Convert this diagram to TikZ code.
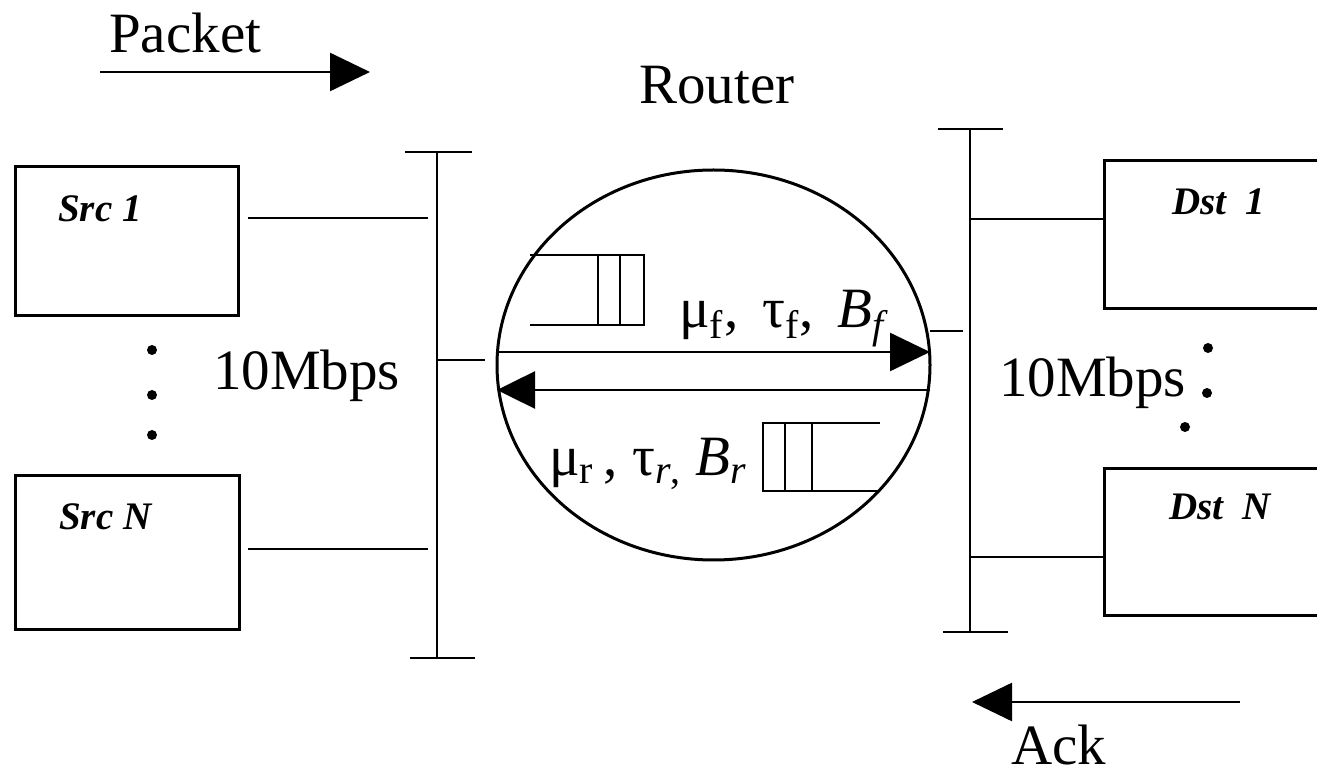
\documentclass[tikz,border=0pt]{standalone}
\usepackage{fontspec}
\setmainfont{Liberation Serif}
\usetikzlibrary{arrows.meta,shapes.geometric}
\begin{document}
\begin{tikzpicture}[x=0.5pt,y=-0.5pt,line width=1.3pt,
  big/.style={font=\fontsize{28.5pt}{30pt}\selectfont,inner sep=0pt,anchor=base west},
  hostlbl/.style={font=\fontsize{19.5pt}{22pt}\selectfont\bfseries\itshape,inner sep=0pt,anchor=base west},
  hostbox/.style={draw,anchor=north west,inner sep=0pt},
  tri/.style={-{Triangle[length=20pt,width=19pt]}},
  dot/.style={circle,fill,inner sep=0pt,minimum size=5pt}]
\useasboundingbox (0,0) rectangle (1317,774);
% host boxes
\node[hostbox,minimum width=111.5pt,minimum height=74.5pt] (src1) at (14,165) {};
\node[hostbox,minimum width=112pt,minimum height=77pt] (srcN) at (14,474) {};
\node[hostbox,minimum width=113.5pt,minimum height=74pt] (dst1) at (1103,159) {};
\node[hostbox,minimum width=113.5pt,minimum height=73.5pt] (dstN) at (1103,467) {};
\node[hostlbl] (t1) at (57,222) {Src 1};
\node[hostlbl] (t2) at (58,530) {Src N};
\node[hostlbl] (t3) at (1171,215) {Dst\ \ 1};
\node[hostlbl] (t4) at (1168,520) {Dst\ \ N};
% left bus
\coordinate (lbt) at (437,152);
\coordinate (lbb) at (437,658);
\draw (lbt) -- (lbb);
\coordinate (lbt1) at (405,152); \coordinate (lbt2) at (472,152);
\coordinate (lbb1) at (410,658); \coordinate (lbb2) at (475,658);
\draw (lbt1) -- (lbt2);
\draw (lbb1) -- (lbb2);
\coordinate (s1a) at (248,218); \coordinate (s1b) at (428,218);
\coordinate (sNa) at (248,549); \coordinate (sNb) at (428,549);
\draw (s1a) -- (s1b);
\draw (sNa) -- (sNb);
\coordinate (lm1) at (437,360); \coordinate (lm2) at (485,360);
\draw (lm1) -- (lm2);
% right bus
\coordinate (rbt) at (970,129);
\coordinate (rbb) at (970,632);
\draw (rbt) -- (rbb);
\coordinate (rbt1) at (938,129); \coordinate (rbt2) at (1003,129);
\coordinate (rbb1) at (943,632); \coordinate (rbb2) at (1008,632);
\draw (rbt1) -- (rbt2);
\draw (rbb1) -- (rbb2);
\coordinate (d1a) at (970,219); \coordinate (dNa) at (970,557);
\draw (d1a) -- (dst1.west |- d1a);
\draw (dNa) -- (dstN.west |- dNa);
\coordinate (rm1) at (930,331); \coordinate (rm2) at (963,331);
\draw (rm1) -- (rm2);
% dots
\node[dot] (ld1) at (152,350) {};
\node[dot] (ld2) at (152,395) {};
\node[dot] (ld3) at (152,435) {};
\node[dot] (rd1) at (1208,348) {};
\node[dot] (rd2) at (1207,393) {};
\node[dot] (rd3) at (1185,427) {};
% texts
\node[big] (packet) at (108,53) {Packet};
\node[big] (routerlbl) at (638,104) {Router};
\node[big,text depth=0pt] (ack) at (1010,764) {Ack};
\node[big] (bwl) at (212,390) {10Mbps};
\node[big] (bwr) at (998,397) {10Mbps};
% packet / ack arrows
\coordinate (pa) at (100,72); \coordinate (pb) at (370,72);
\draw[tri] (pa) -- (pb);
\coordinate (aa) at (1240,702); \coordinate (ab) at (972,702);
\draw[tri] (aa) -- (ab);
% router
\node[draw,ellipse,line width=1.5pt,minimum width=216.5pt,minimum height=195pt,inner sep=0pt] (router) at (713.5,365) {};
\coordinate (fl) at (497,352); \coordinate (fr) at (930,352);
\draw[tri] (fl) -- (fr);
\coordinate (rl) at (497,390); \coordinate (rr) at (930,390);
\draw[-{Triangle[length=19pt,width=18.5pt]}] (rr) -- (rl);
% forward queue
\draw (530,255) -- (644,255) -- (644,325) -- (530,325);
\draw (598,255) -- (598,325);
\draw (620,255) -- (620,325);
% reverse queue
\draw (880,423) -- (763,423) -- (763,491) -- (880,491);
\draw (785,423) -- (785,491);
\draw (812,423) -- (812,491);
% queue labels
\node[big] (fwd) at (678,328) {μ\textsubscript{f}, \,τ\textsubscript{f}, \,\textit{B\textsubscript{f}}};
\node[big] (rev) at (548,476) {μ\textsubscript{r}\,, τ\textsubscript{\textit{r},} \textit{B\textsubscript{r}}};
\end{tikzpicture}
\end{document}
